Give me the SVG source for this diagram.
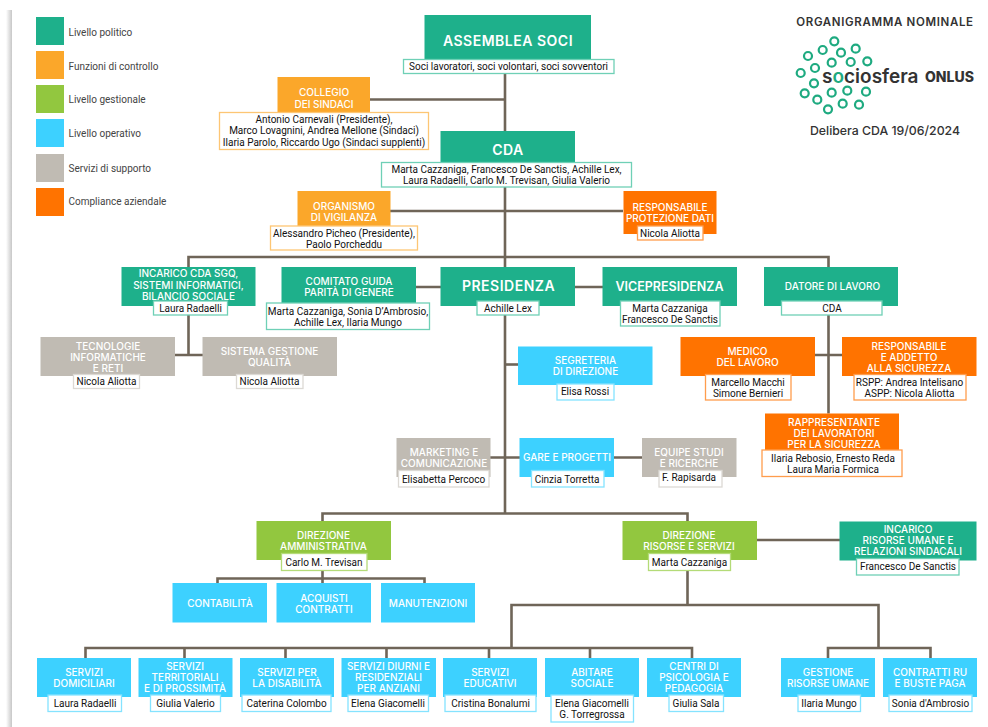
<svg xmlns="http://www.w3.org/2000/svg" width="988" height="727" viewBox="0 0 988 727">
<style>
text{font-family:"Roboto","Liberation Sans",sans-serif}
.h{font-family:"Inter","Open Sans",sans-serif;font-weight:500;font-size:10px;fill:#fff;text-anchor:middle}
.hb{font-size:14px;font-weight:600;letter-spacing:.5px}
.n{font-size:10px;fill:#111;text-anchor:middle}
.l{font-size:10px;fill:#444}
.t{fill:#1eb08b}.y{fill:#fba72a}.g{fill:#92c73f}.c{fill:#3dd1ff}.s{fill:#c0bbb3}.o{fill:#ff7300}
.st,.sy,.sg,.sc,.ss,.so{fill:#fff;stroke-width:1.3}
.st{stroke:#6fd0b6}.sy{stroke:#fdc674}.sg{stroke:#b4db78}.sc{stroke:#85e3ff}.ss{stroke:#dcd9d4}.so{stroke:#ff9d4d}
#connectors path{fill:none;stroke:#6f6558;stroke-width:2.6}
#logo circle{fill:none;stroke:#1eaa80;stroke-width:2.2}
</style>
<defs><linearGradient id="sh" x1="0" x2="1" y1="0" y2="0"><stop offset="0" stop-color="#999" stop-opacity="0"/><stop offset="1" stop-color="#999" stop-opacity=".55"/></linearGradient></defs>
<rect width="988" height="727" fill="#fff"/>
<rect x="6" y="10" width="6" height="717" fill="url(#sh)"/>

<g id="legend">
<rect class="t" x="36" y="17" width="28" height="28"/><text class="l" x="68.5" y="35.5">Livello politico</text>
<rect class="y" x="36" y="51" width="28" height="28"/><text class="l" x="68.5" y="70">Funzioni di controllo</text>
<rect class="g" x="36" y="85" width="28" height="28"/><text class="l" x="68.5" y="103">Livello gestionale</text>
<rect class="c" x="36" y="119" width="28" height="28"/><text class="l" x="68.5" y="137">Livello operativo</text>
<rect class="s" x="36" y="154" width="28" height="28"/><text class="l" x="68.5" y="171.5">Servizi di supporto</text>
<rect class="o" x="36" y="188" width="28" height="28"/><text class="l" x="68.5" y="205">Compliance aziendale</text>
</g>

<g id="connectors">
<path d="M505 74V513"/>
<path d="M370 99.5H505"/>
<path d="M390 211H623"/>
<path d="M188.5 267V257H828.5V267"/>
<path d="M188.5 315V355M175 355H203"/>
<path d="M416 287H441M575 287H603"/>
<path d="M828.5 315V413.5M815 355H842"/>
<path d="M505 364.5H518"/>
<path d="M490 457.5H642"/>
<path d="M322.5 521V513.5H687.5V521"/>
<path d="M322.5 570V583M217.5 583V578.5H424.5V583"/>
<path d="M757 540H840"/>
<path d="M687.5 570V605M511.5 648V605H878.5V648"/>
<path d="M85.5 658V648H692V658M184.5 648V658M285.5 648V658M386.5 648V658M489 648V658M590 648V658"/>
<path d="M828 658V648H930.5V658"/>
</g>

<g id="assemblea"><rect class="t" x="424.5" y="15" width="166.5" height="45"/><text class="h hb" x="508" y="46">ASSEMBLEA SOCI</text>
<rect class="st" x="403.5" y="59.5" width="210.5" height="14"/><text class="n" x="508.5" y="70">Soci lavoratori, soci volontari, soci sovventori</text></g>

<g id="collegio"><rect class="y" x="277.5" y="77" width="92.5" height="36"/><text class="h" x="324" y="96">COLLEGIO</text><text class="h" x="324" y="107.5">DEI SINDACI</text>
<rect class="sy" x="219.5" y="112.5" width="209" height="37"/><text class="n" x="324" y="123">Antonio Carnevali (Presidente),</text><text class="n" x="324" y="134">Marco Lovagnini, Andrea Mellone (Sindaci)</text><text class="n" x="324" y="145.5">Ilaria Parolo, Riccardo Ugo (Sindaci supplenti)</text></g>

<g id="cda"><rect class="t" x="440.5" y="131" width="134.5" height="32"/><text class="h hb" x="508" y="154.5">CDA</text>
<rect class="st" x="381.5" y="162.5" width="250" height="24.5"/><text class="n" x="506.5" y="173">Marta Cazzaniga, Francesco De Sanctis, Achille Lex,</text><text class="n" x="506.5" y="184">Laura Radaelli, Carlo M. Trevisan, Giulia Valerio</text></g>

<g id="organismo"><rect class="y" x="297.5" y="191" width="93" height="35.5"/><text class="h" x="344" y="210">ORGANISMO</text><text class="h" x="344" y="221">DI VIGILANZA</text>
<rect class="sy" x="270.5" y="226" width="147" height="24"/><text class="n" x="344" y="236.5">Alessandro Picheo (Presidente),</text><text class="n" x="344" y="247.5">Paolo Porcheddu</text></g>

<g id="protezione"><rect class="o" x="623.5" y="191" width="93" height="43"/><text class="h" x="670" y="210.5">RESPONSABILE</text><text class="h" x="670" y="221.5">PROTEZIONE DATI</text>
<rect class="so" x="637.5" y="226" width="65.5" height="14"/><text class="n" x="670" y="236.5">Nicola Aliotta</text></g>

<g id="sgq"><rect class="t" x="121.5" y="267" width="134" height="39"/><text class="h" x="188.5" y="277">INCARICO CDA SGQ,</text><text class="h" x="188.5" y="288.5">SISTEMI INFORMATICI,</text><text class="h" x="188.5" y="299.5">BILANCIO SOCIALE</text>
<rect class="st" x="153.5" y="301" width="74" height="14"/><text class="n" x="190.5" y="311.5">Laura Radaelli</text></g>

<g id="tecnologie"><rect class="s" x="40.5" y="337" width="134.5" height="39"/><text class="h" x="108" y="349.5">TECNOLOGIE</text><text class="h" x="108" y="360.5">INFORMATICHE</text><text class="h" x="108" y="372">E RETI</text>
<rect class="ss" x="73.5" y="374.5" width="66" height="14"/><text class="n" x="106.5" y="385">Nicola Aliotta</text></g>

<g id="qualita"><rect class="s" x="202.5" y="337" width="134.5" height="39"/><text class="h" x="269.5" y="355">SISTEMA GESTIONE</text><text class="h" x="269.5" y="366">QUALITÀ</text>
<rect class="ss" x="236.5" y="374.5" width="66.5" height="14"/><text class="n" x="269.5" y="385">Nicola Aliotta</text></g>

<g id="comitato"><rect class="t" x="281.5" y="267" width="134.5" height="36.5"/><text class="h" x="349" y="285">COMITATO GUIDA</text><text class="h" x="349" y="296">PARITÀ DI GENERE</text>
<rect class="st" x="266.5" y="303" width="163" height="26.5"/><text class="n" x="348" y="314.5">Marta Cazzaniga, Sonia D’Ambrosio,</text><text class="n" x="348" y="325.5">Achille Lex, Ilaria Mungo</text></g>

<g id="presidenza"><rect class="t" x="440.5" y="267" width="134.5" height="39"/><text class="h hb" x="508.5" y="291">PRESIDENZA</text>
<rect class="st" x="477" y="301" width="62" height="14"/><text class="n" x="508" y="311.5">Achille Lex</text></g>

<g id="vicepresidenza"><rect class="t" x="602.5" y="267" width="134.5" height="39"/><text class="h" style="font-size:12.5px;font-weight:600" x="669.5" y="291">VICEPRESIDENZA</text>
<rect class="st" x="620.5" y="301" width="99.5" height="25"/><text class="n" x="670" y="311.5">Marta Cazzaniga</text><text class="n" x="670" y="322.5">Francesco De Sanctis</text></g>

<g id="datore"><rect class="t" x="764" y="267" width="134" height="39"/><text class="h" x="832.5" y="289.5">DATORE DI LAVORO</text>
<rect class="st" x="781.5" y="301" width="100.5" height="14"/><text class="n" x="832" y="311.5">CDA</text></g>

<g id="medico"><rect class="o" x="680.5" y="337" width="134.5" height="39"/><text class="h" x="747.5" y="355">MEDICO</text><text class="h" x="747.5" y="366">DEL LAVORO</text>
<rect class="so" x="705.5" y="374.5" width="85.5" height="25.5"/><text class="n" x="748" y="385.5">Marcello Macchi</text><text class="n" x="748" y="396.5">Simone Bernieri</text></g>

<g id="rspp"><rect class="o" x="842" y="337" width="134.5" height="39"/><text class="h" x="909" y="350">RESPONSABILE</text><text class="h" x="909" y="361">E ADDETTO</text><text class="h" x="909" y="372">ALLA SICUREZZA</text>
<rect class="so" x="854" y="374.5" width="112" height="25.5"/><text class="n" x="909.5" y="385.5">RSPP: Andrea Intelisano</text><text class="n" x="909.5" y="396.5">ASPP: Nicola Aliotta</text></g>

<g id="rls"><rect class="o" x="765" y="413.5" width="134" height="38"/><text class="h" x="834" y="425.5">RAPPRESENTANTE</text><text class="h" x="834" y="437">DEI LAVORATORI</text><text class="h" x="834" y="448">PER LA SICUREZZA</text>
<rect class="so" x="762" y="450" width="140" height="26.5"/><text class="n" x="833" y="461.5">Ilaria Rebosio, Ernesto Reda</text><text class="n" x="833" y="472.5">Laura Maria Formica</text></g>

<g id="segreteria"><rect class="c" x="518" y="346.5" width="134.5" height="38.5"/><text class="h" x="585.5" y="364">SEGRETERIA</text><text class="h" x="585.5" y="375">DI DIREZIONE</text>
<rect class="sc" x="557" y="384" width="57" height="16"/><text class="n" x="585" y="395">Elisa Rossi</text></g>

<g id="marketing"><rect class="s" x="396.5" y="438" width="94" height="39"/><text class="h" x="444" y="456">MARKETING E</text><text class="h" x="444" y="467">COMUNICAZIONE</text>
<rect class="ss" x="398.5" y="470.5" width="90.5" height="16.5"/><text class="n" x="443.5" y="482.5">Elisabetta Percoco</text></g>

<g id="gare"><rect class="c" x="519.5" y="438" width="94.5" height="39"/><text class="h" x="567" y="461">GARE E PROGETTI</text>
<rect class="sc" x="531.5" y="470.5" width="72.5" height="16.5"/><text class="n" x="567" y="482.5">Cinzia Torretta</text></g>

<g id="equipe"><rect class="s" x="642" y="438" width="94.5" height="39"/><text class="h" x="689" y="456">EQUIPE STUDI</text><text class="h" x="689" y="467">E RICERCHE</text>
<rect class="ss" x="659" y="470.5" width="63" height="16.5"/><text class="n" x="689" y="481">F. Rapisarda</text></g>

<g id="dir-amm"><rect class="g" x="256.5" y="521" width="134.5" height="39"/><text class="h" x="323.5" y="539">DIREZIONE</text><text class="h" x="323.5" y="550">AMMINISTRATIVA</text>
<rect class="sg" x="281.5" y="553.5" width="85.5" height="17"/><text class="n" x="324" y="565.5">Carlo M. Trevisan</text></g>

<g id="contabilita"><rect class="c" x="172.5" y="583" width="94.5" height="39.5"/><text class="h" x="220" y="607">CONTABILITÀ</text></g>
<g id="acquisti"><rect class="c" x="276.5" y="583" width="94.5" height="39.5"/><text class="h" x="324" y="601.5">ACQUISTI</text><text class="h" x="324" y="612.5">CONTRATTI</text></g>
<g id="manutenzioni"><rect class="c" x="381" y="583" width="94" height="39.5"/><text class="h" x="428" y="606.5">MANUTENZIONI</text></g>

<g id="dir-ris"><rect class="g" x="622.5" y="521" width="134.5" height="39"/><text class="h" x="689" y="539">DIREZIONE</text><text class="h" x="689" y="550">RISORSE E SERVIZI</text>
<rect class="sg" x="648.5" y="553.5" width="82" height="17"/><text class="n" x="689.5" y="565.5">Marta Cazzaniga</text></g>

<g id="incarico-ru"><rect class="t" x="839.5" y="521.5" width="137" height="39"/><text class="h" x="908" y="533">INCARICO</text><text class="h" x="908" y="544">RISORSE UMANE E</text><text class="h" x="908" y="555">RELAZIONI SINDACALI</text>
<rect class="st" x="856.5" y="558.5" width="102.5" height="16.5"/><text class="n" x="908" y="570">Francesco De Sanctis</text></g>

<g id="domiciliari"><rect class="c" x="37" y="658" width="94" height="39"/><text class="h" x="84" y="675.5">SERVIZI</text><text class="h" x="84" y="687">DOMICILIARI</text>
<rect class="sc" x="48" y="695" width="73.5" height="16.5"/><text class="n" x="85" y="706.5">Laura Radaelli</text></g>
<g id="territoriali"><rect class="c" x="138.5" y="658" width="94" height="39"/><text class="h" x="185" y="669.5">SERVIZI</text><text class="h" x="185" y="681">TERRITORIALI</text><text class="h" x="185" y="692">E DI PROSSIMITÀ</text>
<rect class="sc" x="150.5" y="695" width="70" height="16.5"/><text class="n" x="185.5" y="706.5">Giulia Valerio</text></g>
<g id="disabilita"><rect class="c" x="240" y="658" width="94" height="39"/><text class="h" x="287" y="675.5">SERVIZI PER</text><text class="h" x="287" y="687">LA DISABILITÀ</text>
<rect class="sc" x="242" y="695" width="89" height="16.5"/><text class="n" x="286.5" y="706.5">Caterina Colombo</text></g>
<g id="anziani"><rect class="c" x="341.5" y="658" width="94.5" height="39"/><text class="h" x="388.5" y="669.5">SERVIZI DIURNI E</text><text class="h" x="388.5" y="681">RESIDENZIALI</text><text class="h" x="388.5" y="692">PER ANZIANI</text>
<rect class="sc" x="348" y="695" width="80.5" height="16.5"/><text class="n" x="388" y="706.5">Elena Giacomelli</text></g>
<g id="educativi"><rect class="c" x="443" y="658" width="94" height="39"/><text class="h" x="490" y="675.5">SERVIZI</text><text class="h" x="490" y="687">EDUCATIVI</text>
<rect class="sc" x="445" y="695" width="91" height="16.5"/><text class="n" x="490.5" y="706.5">Cristina Bonalumi</text></g>
<g id="abitare"><rect class="c" x="545" y="658" width="94" height="39"/><text class="h" x="592" y="675.5">ABITARE</text><text class="h" x="592" y="687">SOCIALE</text>
<rect class="sc" x="551" y="695" width="82.5" height="27"/><text class="n" x="592" y="706.5">Elena Giacomelli</text><text class="n" x="592" y="717.5">G. Torregrossa</text></g>
<g id="centri"><rect class="c" x="647" y="658" width="94" height="39"/><text class="h" x="694" y="669.5">CENTRI DI</text><text class="h" x="694" y="681">PSICOLOGIA E</text><text class="h" x="694" y="692">PEDAGOGIA</text>
<rect class="sc" x="669" y="695" width="54.5" height="16.5"/><text class="n" x="696" y="706.5">Giulia Sala</text></g>
<g id="gestione"><rect class="c" x="781" y="658" width="94" height="39"/><text class="h" x="828" y="675.5">GESTIONE</text><text class="h" x="828" y="687">RISORSE UMANE</text>
<rect class="sc" x="798" y="695" width="62.5" height="16.5"/><text class="n" x="829" y="706.5">Ilaria Mungo</text></g>
<g id="contratti"><rect class="c" x="883" y="658" width="94" height="39"/><text class="h" x="930" y="675.5">CONTRATTI RU</text><text class="h" x="930" y="687">E BUSTE PAGA</text>
<rect class="sc" x="889" y="695" width="83" height="16.5"/><text class="n" x="930.5" y="706.5">Sonia d'Ambrosio</text></g>

<g id="logo">
<text x="885" y="25.5" text-anchor="middle" style="font-family:Inter,sans-serif;font-size:11.5px;font-weight:600;fill:#333;letter-spacing:.65px">ORGANIGRAMMA NOMINALE</text>
<circle cx="834.3" cy="41.3" r="4"/><circle cx="822.7" cy="50" r="4"/><circle cx="841" cy="52.7" r="4"/><circle cx="855.7" cy="48.7" r="4"/><circle cx="808" cy="56" r="4"/><circle cx="831.7" cy="62.7" r="4"/><circle cx="850.7" cy="62" r="4"/><circle cx="867.3" cy="61.3" r="4"/><circle cx="815" cy="68" r="4"/><circle cx="800.7" cy="73" r="4"/><circle cx="814" cy="83.3" r="4"/><circle cx="804.7" cy="93.3" r="4"/><circle cx="817.3" cy="99.7" r="4"/><circle cx="831.7" cy="92.7" r="4"/><circle cx="847.3" cy="90.7" r="4"/><circle cx="866" cy="91.7" r="4"/><circle cx="828" cy="109.3" r="4"/><circle cx="842.7" cy="103.7" r="4"/><circle cx="859" cy="104.7" r="4"/>
<text x="822" y="82.5" style="font-family:Inter,sans-serif;font-size:19px;font-weight:600;fill:#333">s<tspan fill="#1eaa80">o</tspan>ciosfera</text>
<text x="925" y="82" style="font-family:Inter,sans-serif;font-size:14px;font-weight:800;fill:#333">ONLUS</text>
<text x="885" y="135" text-anchor="middle" style="font-family:Inter,sans-serif;font-size:12.3px;font-weight:500;fill:#333">Delibera CDA 19/06/2024</text>
</g>
</svg>
